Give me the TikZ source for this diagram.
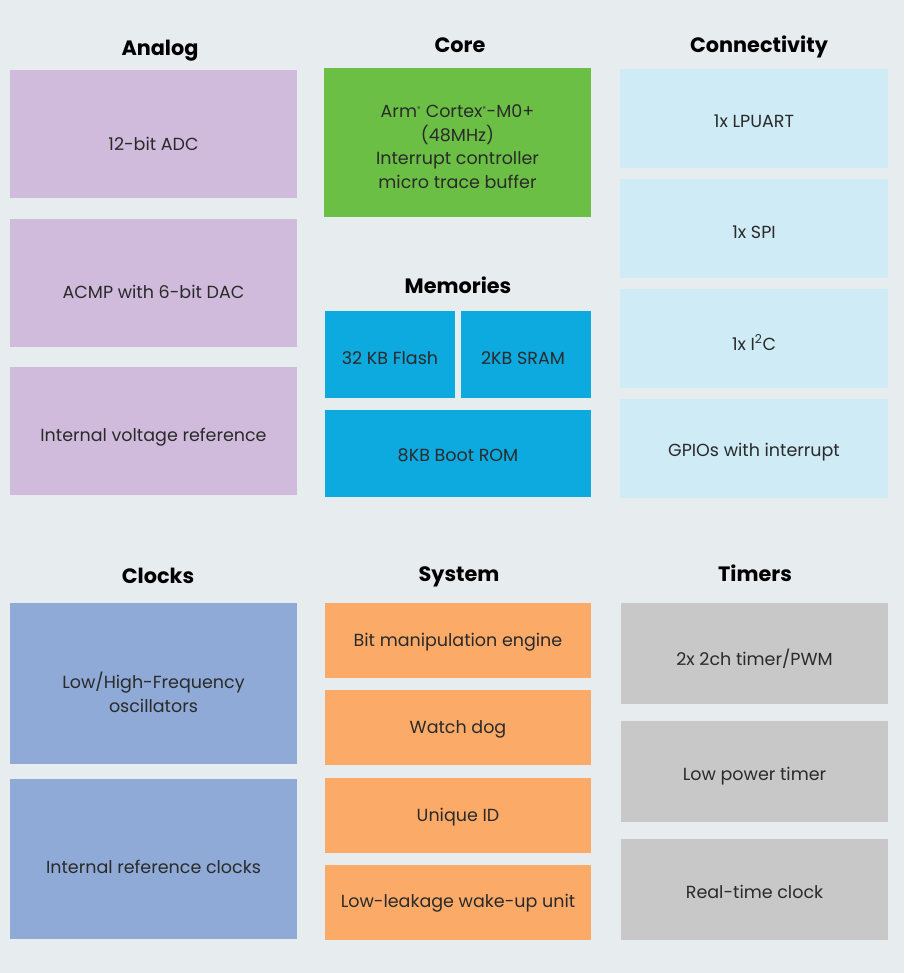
\documentclass[tikz,border=0pt]{standalone}
\usepackage{fontspec}
\setmainfont{Poppins}
\definecolor{bgc}{HTML}{E7ECEE}
\definecolor{anac}{HTML}{D0BBDD}
\definecolor{corec}{HTML}{6CBF45}
\definecolor{conc}{HTML}{CFEBF6}
\definecolor{memc}{HTML}{0DAADF}
\definecolor{clkc}{HTML}{8FAAD6}
\definecolor{sysc}{HTML}{FBAA68}
\definecolor{timc}{HTML}{C8C8C8}
\definecolor{txtc}{HTML}{2A2A2A}
\tikzset{
  blk/.style={text=txtc, font=\fontsize{17.5}{23.5}\selectfont, align=center, yshift=-1.5pt},
  head/.style={text=black, font=\fontsize{20.8}{24}\selectfont\bfseries, anchor=base},
}
\begin{document}
\begin{tikzpicture}[x=1pt,y=-1pt]
\fill[bgc] (0,0) rectangle (904,973);
\useasboundingbox (0,0) rectangle (904,973);

% headings
\node[head] (hA) at (160,56) {Analog};
\node[head] (hC) at (460,53) {Core};
\node[head] (hN) at (759,53) {Connectivity};
\node[head] (hM) at (458,294) {Memories};
\node[head] (hK) at (158,583) {Clocks};
\node[head] (hS) at (459,581) {System};
\node[head] (hT) at (755,581) {Timers};

% Analog
\fill[anac] (10,70) rectangle (297,198);
\node[blk] (a1) at (153.5,142) {12-bit ADC};
\fill[anac] (10,219) rectangle (297,347);
\node[blk] (a2) at (153.5,290) {ACMP with 6-bit DAC};
\fill[anac] (10,367) rectangle (297,495);
\node[blk] (a3) at (153.5,436) {Internal voltage reference};

% Core
\fill[corec] (324,68) rectangle (591,217);
\node[blk] (c1) at (457.5,145) {Arm\textsuperscript{\scriptsize®} Cortex\textsuperscript{\scriptsize®}-M0+\\(48MHz)\\Interrupt controller\\micro trace buffer};

% Memories
\fill[memc] (325,311) rectangle (455,398);
\node[blk] (m1) at (390,357) {32 KB Flash};
\fill[memc] (461,311) rectangle (591,398);
\node[blk] (m2) at (523,357) {2KB SRAM};
\fill[memc] (325,410) rectangle (591,497);
\node[blk] (m3) at (458,454) {8KB Boot ROM};

% Connectivity
\fill[conc] (620,69) rectangle (888,168);
\node[blk] (n1) at (754,120) {1x LPUART};
\fill[conc] (620,179) rectangle (888,278);
\node[blk] (n2) at (754,231) {1x SPI};
\fill[conc] (620,289) rectangle (888,388);
\node[blk] (n3) at (754,341) {1x I\textsuperscript{2}C};
\fill[conc] (620,399) rectangle (888,498);
\node[blk] (n4) at (754,451) {GPIOs with interrupt};

% Clocks
\fill[clkc] (10,603) rectangle (297,764);
\node[blk] (k1) at (153.5,691) {Low/High-Frequency\\oscillators};
\fill[clkc] (10,779) rectangle (297,939);
\node[blk] (k2) at (153.5,865) {Internal reference clocks};

% System
\fill[sysc] (325,603) rectangle (591,678);
\node[blk] (s1) at (458,641) {Bit manipulation engine};
\fill[sysc] (325,690) rectangle (591,765);
\node[blk] (s2) at (458,728) {Watch dog};
\fill[sysc] (325,778) rectangle (591,853);
\node[blk] (s3) at (458,816) {Unique ID};
\fill[sysc] (325,865) rectangle (591,940);
\node[blk] (s4) at (458,902) {Low-leakage wake-up unit};

% Timers
\fill[timc] (621,603) rectangle (888,704);
\node[blk] (t1) at (754.5,657) {2x 2ch timer/PWM};
\fill[timc] (621,721) rectangle (888,822);
\node[blk] (t2) at (754.5,775) {Low power timer};
\fill[timc] (621,839) rectangle (888,940);
\node[blk] (t3) at (754.5,890) {Real-time clock};
\end{tikzpicture}
\end{document}
